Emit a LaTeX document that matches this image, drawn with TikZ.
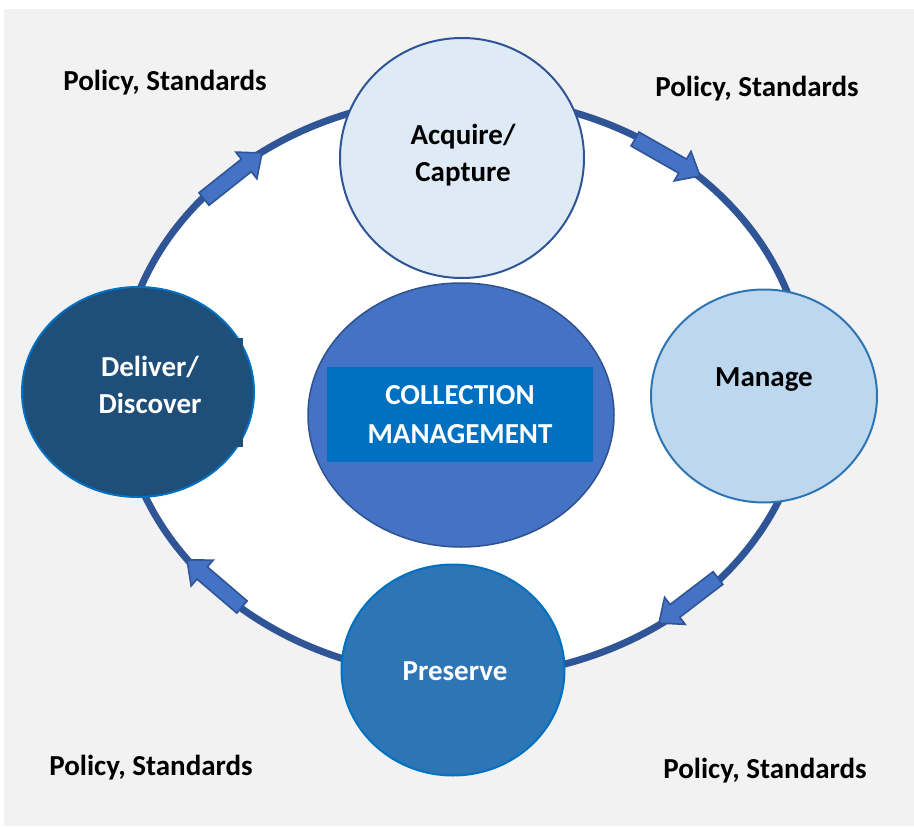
\documentclass[tikz,border=0pt]{standalone}
\usepackage{fontspec}
\setmainfont{Carlito}
\usetikzlibrary{calc,shapes.geometric}

\definecolor{panel}{HTML}{F2F2F2}
\definecolor{ringblue}{HTML}{2F5597}
\definecolor{arrowfill}{HTML}{4472C4}
\definecolor{acqfill}{HTML}{DEEBF7}
\definecolor{mngfill}{HTML}{BDD7EE}
\definecolor{mngline}{HTML}{2E75B6}
\definecolor{presfill}{HTML}{2E75B6}
\definecolor{brightblue}{HTML}{0070C0}
\definecolor{delfill}{HTML}{1F4E79}
\definecolor{cmline}{HTML}{2F528F}

% block arrow sitting on the ring: name, tail point, tip point
\newcommand\ringarrow[3]{%
  \coordinate (#1-t) at (#2);
  \coordinate (#1-h) at (#3);
  \coordinate (#1-b) at ($(#1-h)!20pt!(#1-t)$);
  \draw[arrowbox]
    ($(#1-t)!8pt!90:(#1-h)$) -- ($(#1-b)!8pt!90:(#1-h)$) --
    ($(#1-b)!17pt!90:(#1-h)$) -- (#1-h) --
    ($(#1-b)!17pt!-90:(#1-h)$) -- ($(#1-b)!8pt!-90:(#1-h)$) --
    ($(#1-t)!8pt!-90:(#1-h)$) -- cycle;}

\begin{document}
\begin{tikzpicture}[x=1pt,y=-1pt,
  bigtext/.style={font=\fontsize{29}{37}\selectfont\bfseries, align=center},
  stage/.style={ellipse, inner sep=0pt, line width=2pt},
  label/.style={font=\fontsize{29}{35}\selectfont\bfseries, text=black},
  ring/.style={draw=ringblue, line width=7pt},
  arrowbox/.style={fill=arrowfill, draw=ringblue, line width=1.6pt, line join=miter}]
\useasboundingbox (0,0) rectangle (914,827);
\fill[white] (0,0) rectangle (914,827);
\fill[panel] (4,9) rectangle (914,826);

% the cycle ring
\draw[ring, fill=white] (463,387) ellipse [x radius=343pt, y radius=290pt];

% direction arrows on the ring
\ringarrow{ne}{635,139}{700,176}
\ringarrow{se}{718,578}{659,623}
\ringarrow{sw}{242,607}{187,560}
\ringarrow{nw}{204,199}{262,153}

% lifecycle stages
\node[stage, draw=ringblue, fill=acqfill, minimum width=244pt, minimum height=240pt] (acquire) at (462,158) {};
\node[bigtext] (acquiretext) at (463,155) {Acquire/\\Capture};
\node[stage, draw=mngline, fill=mngfill, minimum width=226pt, minimum height=213pt] (manage) at (764,396) {};
\node[bigtext] (managetext) at (764,380) {Manage};
\node[stage, draw=brightblue, fill=presfill, minimum width=223pt, minimum height=211pt] (preserve) at (453,670) {};
\node[bigtext, text=white] (preservetext) at (455,671) {Preserve};
\node[stage, draw=brightblue, fill=delfill, minimum width=232pt, minimum height=210pt] (deliver) at (138,392) {};
\fill[delfill] (60,338) rectangle (243,447);
\node[bigtext, text=white] (delivertext) at (150,385) {Deliver/\\Discover};

% centre
\node[ellipse, draw=cmline, line width=1.5pt, fill=arrowfill, minimum width=306pt, minimum height=264pt, inner sep=0pt] (centre) at (461,415) {};
\node[fill=brightblue, minimum width=266pt, minimum height=95pt, inner sep=0pt,
  font=\fontsize{29}{39}\selectfont\bfseries, text=white, align=center] (cm) at (460,414.5) {COLLECTION\\MANAGEMENT};

% policy labels
\node[label] (pnw) at (165,83) {Policy, Standards};
\node[label] (pne) at (757,89) {Policy, Standards};
\node[label] (psw) at (151,768) {Policy, Standards};
\node[label] (pse) at (765,771) {Policy, Standards};
\end{tikzpicture}
\end{document}
